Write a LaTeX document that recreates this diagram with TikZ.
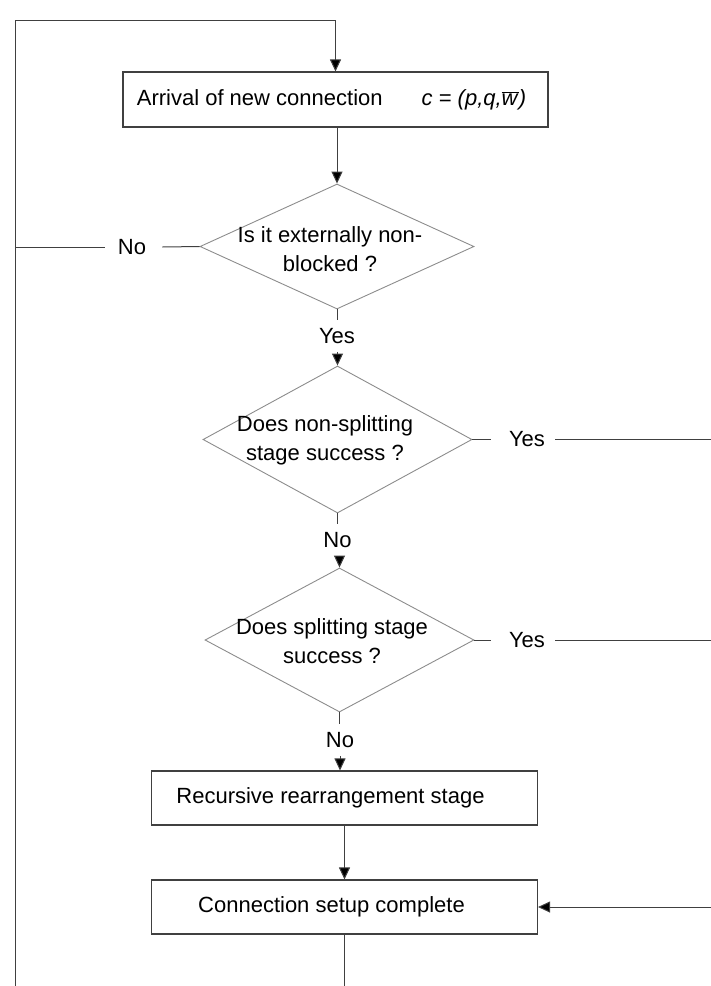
\documentclass[tikz,border=0pt]{standalone}
\usepackage{fontspec}
\setmainfont{Liberation Sans}
\usetikzlibrary{arrows.meta,shapes.geometric,calc}
\begin{document}
\begin{tikzpicture}[x=1pt,y=-1pt,
  every node/.style={font=\fontsize{22}{29}\selectfont, text=black},
  boxnode/.style={draw=black!75, line width=1.1pt, rectangle, inner sep=0pt, minimum width=386pt, minimum height=54pt},
  decision/.style={draw=black!45, line width=0.9pt, diamond, inner sep=0pt},
  lbl/.style={inner sep=0pt},
  conn/.style={draw=black!75, line width=1pt},
  arr/.style={conn, -{Triangle[length=12pt,width=11pt,fill=black]}},
]
\useasboundingbox (0,0) rectangle (711,986);

% nodes
\node[boxnode, minimum width=425pt, minimum height=55pt] (b1) at (335.5,99.5)
  {Arrival of new connection\hspace{39pt}\textit{c = (p,q,}$\overline{\mbox{\textit{w}}}$\textit{)}\hspace*{8pt}};
\node[decision, minimum width=274pt, minimum height=125pt] (d1) at (337,246.5) {};
\node[lbl, align=center] (t1) at (330,249) {Is it externally non-\\blocked ?};
\node[decision, minimum width=269pt, minimum height=147pt] (d2) at (337.5,439.5) {};
\node[lbl, align=center] (t2) at (325,440) {Does non-splitting\\stage success ?};
\node[decision, minimum width=269pt, minimum height=144pt] (d3) at (339.5,640) {};
\node[lbl, align=center] (t3) at (332,641) {Does splitting stage\\success ?};
\node[boxnode] (b2) at (344.5,798) {Recursive rearrangement stage\hspace*{28pt}};
\node[boxnode] (b3) at (344.5,907) {Connection setup complete\hspace*{26pt}};

% labels on connectors
\node[lbl] (no1) at (132,247) {No};
\node[lbl] (yes1) at (337,336) {Yes};
\node[lbl] (yes2) at (527,439.5) {Yes};
\node[lbl] (no2) at (337.5,540) {No};
\node[lbl] (yes3) at (527,640) {Yes};
\node[lbl] (no3) at (340,740) {No};

% free ends at the picture's edges
\coordinate (lt) at (15,20);
\coordinate (lb) at (15,986);
\coordinate (j1) at (15,247);
\coordinate (r2) at (711,439.5);
\coordinate (r3) at (711,640);
\coordinate (r4) at (711,907);
\coordinate (bb) at (344.5,986);

% connectors
\draw[arr] (lb) -- (lt) -| (b1.north);
\draw[arr] (d1.north |- b1.south) -- (d1.north);
\draw[conn] (d1.west) -- ([xshift=16pt]no1.east);
\draw[conn] ([xshift=-13pt]no1.west) -- (j1);
\draw[conn] (d1.south) -- ([yshift=8pt]d1.south |- yes1.north);
\draw[arr] ([yshift=-8pt]d2.north |- yes1.south) -- (d2.north);
\draw[conn] (d2.east) -- ([xshift=-18pt]yes2.west);
\draw[conn] ([xshift=10pt]yes2.east) -- (r2);
\draw[conn] (d2.south) -- ([yshift=8pt]d2.south |- no2.north);
\draw[arr] ([yshift=-8pt]d3.north |- no2.south) -- (d3.north);
\draw[conn] (d3.east) -- ([xshift=-18pt]yes3.west);
\draw[conn] ([xshift=10pt]yes3.east) -- (r3);
\draw[conn] (d3.south) -- ([yshift=8pt]d3.south |- no3.north);
\draw[arr] ([yshift=-8pt]no3.south) -- (no3.south |- b2.north);
\draw[arr] (b2.south) -- (b3.north);
\draw[arr] (r4) -- (b3.east);
\draw[conn] (b3.south) -- (bb);
\end{tikzpicture}
\end{document}
